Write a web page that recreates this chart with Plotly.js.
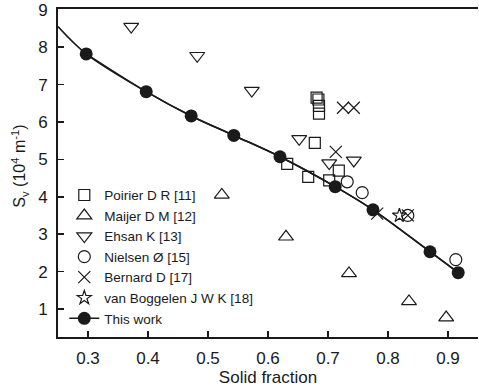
<!DOCTYPE html>
<html>
<head>
<meta charset="utf-8">
<script src="https://cdn.plot.ly/plotly-3.0.1.min.js"></script>
<style>html,body{margin:0;padding:0;background:#fff;}#chart{width:479px;height:390px;}</style>
</head>
<body>
<div id="chart"></div>
<script>
// Poirier D R [11]
const poirierX = [0.681, 0.684, 0.685, 0.685, 0.678, 0.632, 0.667, 0.702, 0.718];
const poirierY = [6.65, 6.60, 6.43, 6.22, 5.44, 4.88, 4.53, 4.44, 4.70];
// Maijer D M [12]
const maijerX = [0.523, 0.630, 0.735, 0.835, 0.897];
const maijerY = [4.05, 2.93, 1.95, 1.20, 0.77];
// Ehsan K [13]
const ehsanX = [0.372, 0.482, 0.573, 0.652, 0.702, 0.743];
const ehsanY = [8.55, 7.77, 6.84, 5.55, 4.90, 4.97];
// Nielsen Ø [15]
const nielsenX = [0.732, 0.757, 0.833, 0.913];
const nielsenY = [4.40, 4.11, 3.50, 2.32];
// Bernard D [17]
const bernardX = [0.725, 0.743, 0.713, 0.782, 0.833];
const bernardY = [6.38, 6.38, 5.20, 3.55, 3.50];
// van Boggelen J W K [18]
const boggelenX = [0.819];
const boggelenY = [3.50];
// This work
const workX = [0.297, 0.397, 0.472, 0.543, 0.620, 0.712, 0.775, 0.870, 0.917];
const workY = [7.82, 6.81, 6.16, 5.64, 5.07, 4.27, 3.65, 2.53, 1.97];
// fitted curve of this work
const fitX = [0.25, 0.297, 0.397, 0.472, 0.543, 0.620, 0.712, 0.775, 0.870, 0.917];
const fitY = [8.55, 7.82, 6.81, 6.16, 5.64, 5.07, 4.27, 3.65, 2.53, 1.97];

const xTicks = [0.3, 0.4, 0.5, 0.6, 0.7, 0.8, 0.9];
const xTickText = ['0.3', '0.4', '0.5', '0.6', '0.7', '0.8', '0.9'];
const yTicks = [1, 2, 3, 4, 5, 6, 7, 8, 9];
const yTickText = ['1', '2', '3', '4', '5', '6', '7', '8', '9'];

const ink = '#1a1a1a';
function openTrace(name, x, y, symbol, size) {
  return {
    type: 'scatter', mode: 'markers', name: name, x: x, y: y,
    marker: {symbol: symbol, size: size, color: ink, line: {color: ink, width: 1.2}},
    cliponaxis: false
  };
}

const traces = [
  {type: 'scatter', mode: 'lines', x: fitX, y: fitY, showlegend: false,
   line: {color: ink, width: 1.6, shape: 'spline'}, hoverinfo: 'skip'},
  openTrace('Poirier D R [11]', poirierX, poirierY, 'square-open', 11),
  openTrace('Maijer D M [12]', maijerX, maijerY, 'triangle-up-open', 13),
  openTrace('Ehsan K [13]', ehsanX, ehsanY, 'triangle-down-open', 13),
  openTrace('Nielsen Ø [15]', nielsenX, nielsenY, 'circle-open', 12),
  openTrace('Bernard D [17]', bernardX, bernardY, 'x-thin-open', 12),
  openTrace('van Boggelen J W K [18]', boggelenX, boggelenY, 'star-open', 10.5),
  {type: 'scatter', mode: 'lines+markers', name: 'This work', x: workX, y: workY,
   line: {color: ink, width: 1.6, shape: 'spline'},
   marker: {symbol: 'circle', size: 13, color: ink}, cliponaxis: false}
];

const font = {family: 'Liberation Sans, Arial, sans-serif', color: ink};

const layout = {
  width: 479, height: 390,
  margin: {l: 58, r: 1, t: 9, b: 53, pad: 0},
  paper_bgcolor: '#fff', plot_bgcolor: '#fff',
  font: Object.assign({size: 16}, font),
  showlegend: true,
  legend: {
    x: 0.015, y: 0.01, xanchor: 'left', yanchor: 'bottom',
    bgcolor: 'rgba(0,0,0,0)', borderwidth: 0,
    font: Object.assign({size: 13.5}, font),
    itemwidth: 30, tracegroupgap: 0
  },
  xaxis: {
    range: [0.25, 0.95], tickvals: xTicks, ticktext: xTickText,
    ticks: 'inside', ticklen: 6, tickwidth: 1.5, tickcolor: ink,
    showline: true, linecolor: ink, linewidth: 2, mirror: true,
    showgrid: false, zeroline: false, ticklabelstandoff: 5,
    tickfont: Object.assign({size: 17}, font),
    title: {text: 'Solid fraction', font: Object.assign({size: 17}, font), standoff: 4}
  },
  yaxis: {
    range: [0.25, 9.02], tickvals: yTicks, ticktext: yTickText,
    ticks: 'inside', ticklen: 6, tickwidth: 1.5, tickcolor: ink,
    showline: true, linecolor: ink, linewidth: 2,
    showgrid: false, zeroline: false, ticklabelstandoff: 5,
    tickfont: Object.assign({size: 17}, font)
  },
  annotations: [
    {xref: 'paper', yref: 'paper', x: -0.09, y: 0.52, xanchor: 'center', yanchor: 'middle',
     textangle: -90, showarrow: false,
     text: 'S<sub>v</sub> (10<sup>4</sup> m<sup>-1</sup>)', font: Object.assign({size: 16}, font)}
  ]
};

Plotly.newPlot('chart', traces, layout, {staticPlot: true, displayModeBar: false});
</script>
</body>
</html>
